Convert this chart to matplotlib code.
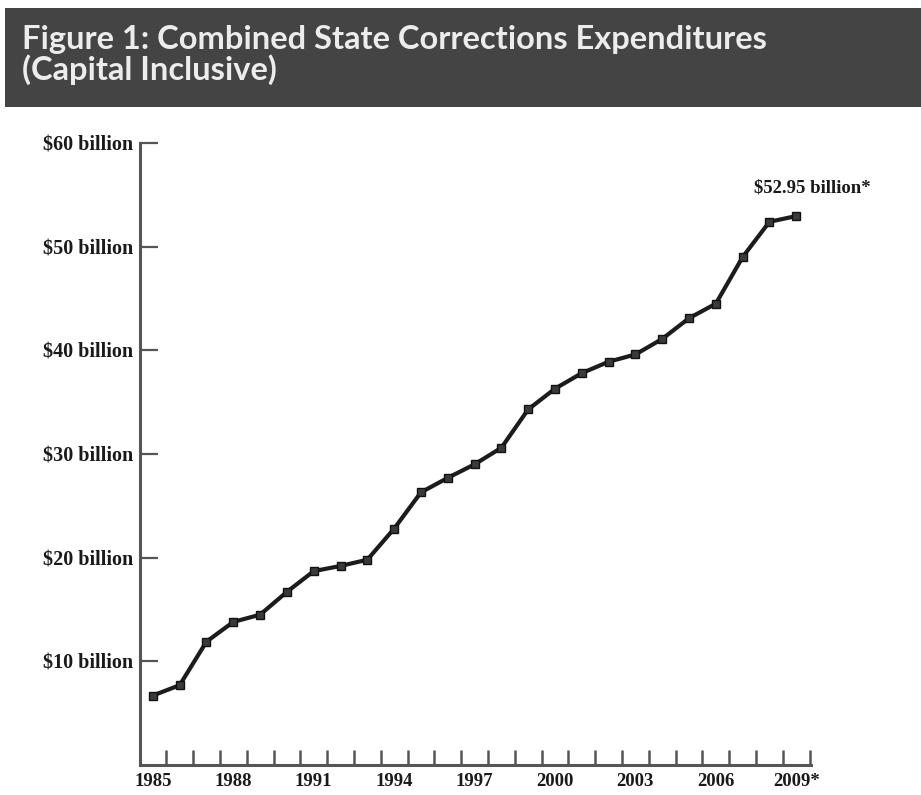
import matplotlib
matplotlib.use("Agg")
import matplotlib.pyplot as plt
from matplotlib.patches import Rectangle
from matplotlib.ticker import FixedLocator

# Combined state corrections expenditures, capital inclusive ($ billions)
years = [1985, 1986, 1987, 1988, 1989, 1990, 1991, 1992, 1993, 1994, 1995, 1996,
         1997, 1998, 1999, 2000, 2001, 2002, 2003, 2004, 2005, 2006, 2007, 2008, 2009]
spending = [6.7, 7.7, 11.9, 13.8, 14.5, 16.7, 18.7, 19.2, 19.8, 22.8, 26.3, 27.7,
            29.0, 30.6, 34.3, 36.3, 37.8, 38.9, 39.6, 41.1, 43.1, 44.5, 49.0, 52.4, 52.95]

label_years = [1985, 1988, 1991, 1994, 1997, 2000, 2003, 2006, 2009]
x_labels = ["1985", "1988", "1991", "1994", "1997", "2000", "2003", "2006", "2009*"]
y_ticks = [10, 20, 30, 40, 50, 60]
y_labels = ["$10 billion", "$20 billion", "$30 billion", "$40 billion",
            "$50 billion", "$60 billion"]
title = "Figure 1: Combined State Corrections Expenditures\n(Capital Inclusive)"
end_label = "$52.95 billion*"

W, H = 921, 795
fig = plt.figure(figsize=(W / 100, H / 100), dpi=100)
fig.patch.set_facecolor("white")

# Title banner
fig.patches.append(Rectangle((0.005, 1 - 107 / H), 0.995, 99 / H,
                             transform=fig.transFigure, facecolor="#444444",
                             edgecolor="none", zorder=0))
fig.text(22 / W, 1 - 25 / H, title, color="#ececec", fontsize=23.5,
         family="Lato", weight="bold", va="top", ha="left", linespacing=1.0)

serif = "Liberation Serif"
axis_col = "#555555"

ax = fig.add_axes([140 / W, 30 / H, 671 / W, 622 / H])
ax.plot(years, spending, color="#1c1c1c", lw=3.0, marker="s", ms=6,
        mfc="#3a3a3a", mec="#111111", mew=1.0, solid_joinstyle="round", zorder=3)

ax.set_xlim(1984.52, 2009.55)
ax.set_ylim(0, 60)

for side in ("top", "right"):
    ax.spines[side].set_visible(False)
for side in ("left", "bottom"):
    ax.spines[side].set_color(axis_col)
    ax.spines[side].set_linewidth(2.2)

ax.set_yticks(y_ticks)
ax.set_yticklabels(y_labels, family=serif, weight="bold", fontsize=14.5,
                   color="#1a1a1a")
ax.tick_params(axis="y", direction="in", length=13, width=1.6, color=axis_col, pad=5)

ax.set_xticks(label_years)
ax.set_xticklabels(x_labels, family=serif, weight="bold", fontsize=13.5,
                   color="#1a1a1a")
ax.tick_params(axis="x", which="major", length=0, pad=6)
ax.xaxis.set_minor_locator(FixedLocator([y + 0.5 for y in years]))
ax.tick_params(axis="x", which="minor", direction="in", length=11, width=1.8,
               color=axis_col)

ax.annotate(end_label, xy=(years[-1], spending[-1]), xytext=(-42, 28),
            textcoords="offset pixels", family=serif, weight="bold",
            fontsize=13.5, color="#1a1a1a", ha="left", va="center")

fig.savefig("out.png", dpi=100)
